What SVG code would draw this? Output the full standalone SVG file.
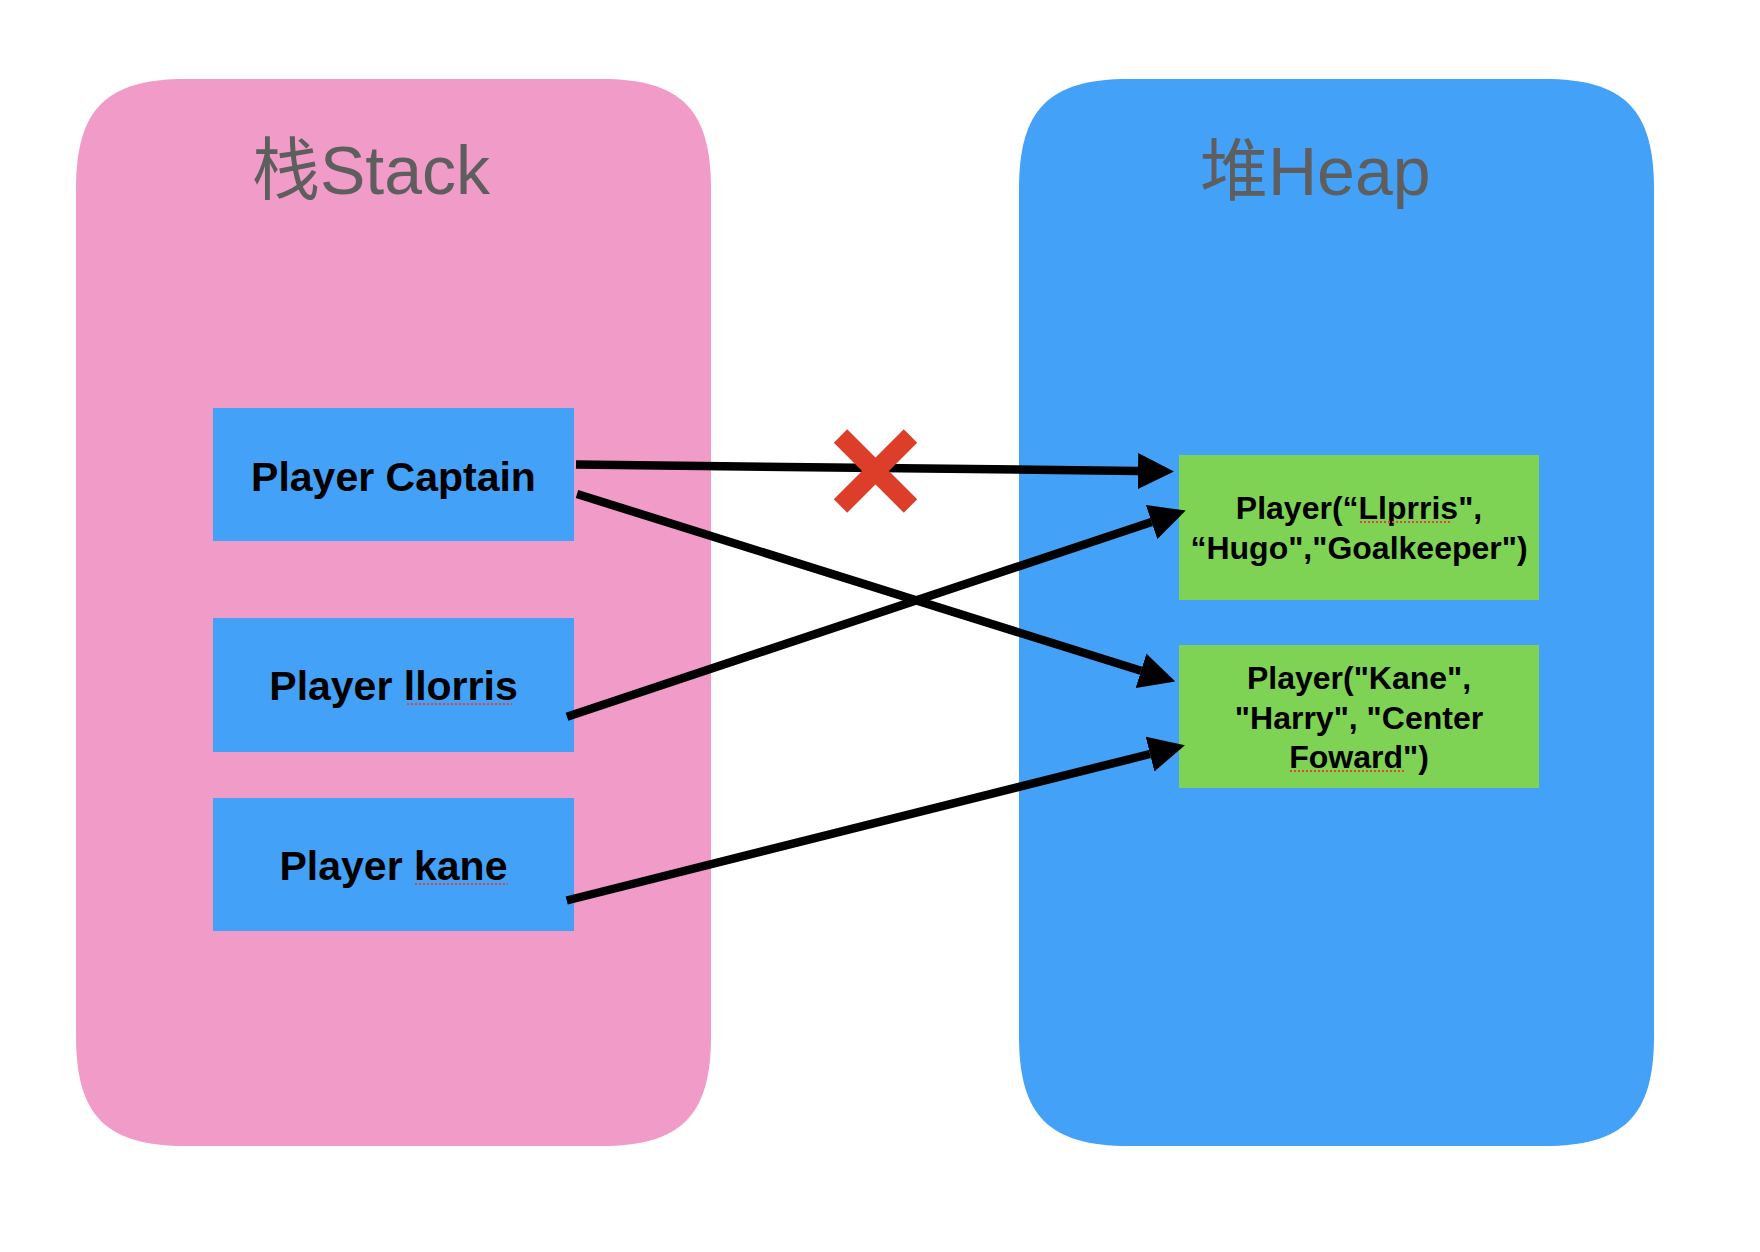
<svg xmlns="http://www.w3.org/2000/svg" width="1760" height="1252" viewBox="0 0 1760 1252">
<style>
.title{font-family:"Liberation Sans","Noto Sans CJK SC",Arial,sans-serif;font-size:68px;fill:#5e5e5e}
.lbl{font-family:"Liberation Sans",Arial,sans-serif;font-weight:bold;font-size:41px;fill:#000;text-anchor:middle}
.obj{font-family:"Liberation Sans",Arial,sans-serif;font-weight:bold;font-size:32px;fill:#000;text-anchor:middle}
.var{fill:#44a1f8}
.heapobj{fill:#7fd354}
.conn{stroke:#000;stroke-width:8.5;fill:none;marker-end:url(#ah)}
.spell{stroke:#e0463a;stroke-width:2;stroke-dasharray:2 2}
</style>
<defs>
<marker id="ah" viewBox="0 0 36 36" refX="0" refY="18" markerWidth="36" markerHeight="36" markerUnits="userSpaceOnUse" orient="auto">
<path d="M0,0 L36,18 L0,36 Z" fill="#000"/>
</marker>
</defs>
<rect width="1760" height="1252" fill="#fff"/>
<g id="stack">
<path d="M186,79 L601,79 C681,79 711,109 711,189 L711,1036 C711,1116 681,1146 601,1146 L186,1146 C106,1146 76,1116 76,1036 L76,189 C76,109 106,79 186,79 Z" fill="#f19bc8"/>
<text class="title" x="252" y="194">栈Stack</text>
</g>
<g id="heap">
<path d="M1129,79 L1544,79 C1624,79 1654,109 1654,189 L1654,1036 C1654,1116 1624,1146 1544,1146 L1129,1146 C1049,1146 1019,1116 1019,1036 L1019,189 C1019,109 1049,79 1129,79 Z" fill="#44a1f8"/>
<text class="title" x="1200" y="195">堆Heap</text>
</g>
<g id="var-captain">
<rect class="var" x="213" y="408" width="361" height="133"/>
<text class="lbl" x="393.5" y="491">Player Captain</text>
</g>
<g id="var-llorris">
<rect class="var" x="213" y="618" width="361" height="134"/>
<text class="lbl" x="393.5" y="700">Player llorris</text>
<line class="spell" x1="407" y1="704" x2="512" y2="704"/>
</g>
<g id="var-kane">
<rect class="var" x="213" y="798" width="361" height="133"/>
<text class="lbl" x="393.5" y="880">Player kane</text>
<line class="spell" x1="415" y1="884" x2="508" y2="884"/>
</g>
<g id="obj-llorris">
<rect class="heapobj" x="1179" y="455" width="360" height="145"/>
<text class="obj" x="1359" y="519">Player(“Llprris",</text>
<text class="obj" x="1359" y="559">“Hugo","Goalkeeper")</text>
<line class="spell" x1="1360" y1="522" x2="1452" y2="522"/>
</g>
<g id="obj-kane">
<rect class="heapobj" x="1179" y="645" width="360" height="143"/>
<text class="obj" x="1359" y="689">Player("Kane",</text>
<text class="obj" x="1359" y="729">"Harry", "Center</text>
<text class="obj" x="1359" y="768">Foward")</text>
<line class="spell" x1="1290" y1="771" x2="1405" y2="771"/>
</g>
<g id="connectors">
<line class="conn" x1="576" y1="464.5" x2="1138" y2="471"/>
<line class="conn" x1="577" y1="494" x2="1141" y2="670.8"/>
<line class="conn" x1="567" y1="716.7" x2="1151.6" y2="522"/>
<line class="conn" x1="566.7" y1="900.5" x2="1150" y2="754"/>
</g>
<g id="cross" stroke="#dc3e2a" stroke-width="19" stroke-linecap="butt">
<line x1="840.5" y1="436" x2="910.5" y2="506"/>
<line x1="910.5" y1="436" x2="840.5" y2="506"/>
</g>
</svg>
